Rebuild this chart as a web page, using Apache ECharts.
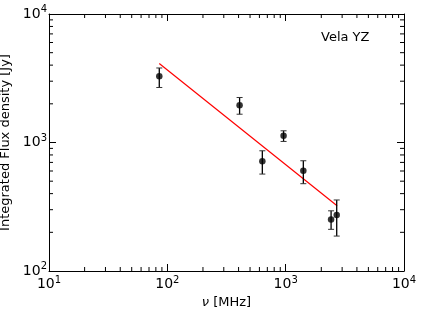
<!DOCTYPE html>
<html><head><meta charset="utf-8">
<script src="https://cdn.jsdelivr.net/npm/echarts@6/dist/echarts.min.js"></script>
<style>html,body{margin:0;padding:0;background:#fff}#c{width:421px;height:316px}</style>
</head><body><div id="c"></div>
<script>
const freq = [85.5, 408, 635, 960, 1410, 2420, 2700];
const flux = [3280, 1950, 716, 1128, 603, 252, 273];
const errLow = [2680, 1660, 568, 1019, 478, 211, 187];
const errHigh = [3800, 2240, 862, 1233, 721, 294, 357];
const fitFreq = [85.5, 2720];
const fitFlux = [4120, 322];
const xTickLabels = ['10^1', '10^2', '10^3', '10^4'];
const yTickLabels = ['10^2', '10^3', '10^4'];
const sourceName = 'Vela YZ';

const X_MIN = 10, X_MAX = 10000, Y_MIN = 100, Y_MAX = 10000;
function minors(lo, hi) {
  const out = [];
  for (let d = lo; d < hi; d *= 10) for (let k = 2; k <= 9; k++) out.push(d * k);
  return out;
}
const xMinor = minors(X_MIN, X_MAX);
const yMinor = minors(Y_MIN, Y_MAX);
const FONT = 'DejaVu Sans';

function powLabel(v) {
  const e = Math.round(Math.log10(v));
  return '{b|10}{s|' + e + '}';
}
const richLab = {
  b: {fontSize: 14, fontFamily: FONT, color: '#000'},
  s: {fontSize: 10, fontFamily: FONT, color: '#000', padding: [0, 0, 9, 0]}
};

const chart = echarts.init(document.getElementById('c'), null, {renderer: 'canvas'});
const axLine = {show: true, lineStyle: {color: '#000', width: 1}};
const majTick = {show: true, inside: true, length: 7, lineStyle: {color: '#000', width: 1}};

chart.setOption({
  animation: false,
  backgroundColor: '#fff',
  grid: {left: 49, right: 17, top: 14, bottom: 45, show: false, containLabel: false, outerBoundsMode: 'none'},
  xAxis: [
    {type: 'log', logBase: 10, min: X_MIN, max: X_MAX, position: 'bottom',
     axisLine: axLine, axisTick: majTick, splitLine: {show: false},
     axisLabel: {formatter: powLabel, rich: richLab, margin: 4},
     name: '{i|ν} [MHz]', nameLocation: 'middle', nameGap: 25,
     nameTextStyle: {fontFamily: FONT, fontSize: 13, color: '#000',
       rich: {i: {fontFamily: FONT, fontStyle: 'italic', fontSize: 13, color: '#000'}}}},
    {type: 'log', logBase: 10, min: X_MIN, max: X_MAX, position: 'top',
     axisLine: axLine, axisTick: majTick, splitLine: {show: false}, axisLabel: {show: false}}
  ],
  yAxis: [
    {type: 'log', logBase: 10, min: Y_MIN, max: Y_MAX, position: 'left',
     axisLine: axLine, axisTick: majTick, splitLine: {show: false},
     axisLabel: {formatter: powLabel, rich: richLab, margin: 2},
     name: 'Integrated Flux density [Jy]', nameLocation: 'middle', nameGap: 35,
     nameTextStyle: {fontFamily: FONT, fontSize: 13, color: '#000'}},
    {type: 'log', logBase: 10, min: Y_MIN, max: Y_MAX, position: 'right',
     axisLine: axLine, axisTick: majTick, splitLine: {show: false}, axisLabel: {show: false}}
  ],
  graphic: [{type: 'text', left: 321, top: 31,
    style: {text: sourceName, fontFamily: FONT, fontSize: 13, fill: '#000'}}],
  series: [
    {type: 'custom', xAxisIndex: 0, yAxisIndex: 0, silent: true,
     data: xMinor.map(v => [v, Y_MIN]),
     renderItem: function (params, api) {
       const b = api.coord([api.value(0), Y_MIN]);
       const t = api.coord([api.value(0), Y_MAX]);
       const st = {stroke: '#000', lineWidth: 1};
       return {type: 'group', children: [
         {type: 'line', shape: {x1: b[0], y1: b[1], x2: b[0], y2: b[1] - 4}, style: st},
         {type: 'line', shape: {x1: t[0], y1: t[1], x2: t[0], y2: t[1] + 4}, style: st}
       ]};
     }},
    {type: 'custom', xAxisIndex: 0, yAxisIndex: 0, silent: true,
     data: yMinor.map(v => [X_MIN, v]),
     renderItem: function (params, api) {
       const l = api.coord([X_MIN, api.value(1)]);
       const r = api.coord([X_MAX, api.value(1)]);
       const st = {stroke: '#000', lineWidth: 1};
       return {type: 'group', children: [
         {type: 'line', shape: {x1: l[0], y1: l[1], x2: l[0] + 4, y2: l[1]}, style: st},
         {type: 'line', shape: {x1: r[0], y1: r[1], x2: r[0] - 4, y2: r[1]}, style: st}
       ]};
     }},
    {type: 'line', xAxisIndex: 0, yAxisIndex: 0, symbol: 'none', silent: true,
     data: fitFreq.map((f, i) => [f, fitFlux[i]]),
     lineStyle: {color: '#ff0000', width: 1.2}, z: 3},
    {type: 'custom', xAxisIndex: 0, yAxisIndex: 0, silent: true, z: 4,
     data: freq.map((f, i) => [f, errLow[i], errHigh[i]]),
     encode: {x: 0, y: [1, 2]},
     renderItem: function (params, api) {
       const lo = api.coord([api.value(0), api.value(1)]);
       const hi = api.coord([api.value(0), api.value(2)]);
       const x = lo[0], w = 3;
       return {type: 'group', children: [
         {type: 'line', shape: {x1: x, y1: lo[1], x2: x, y2: hi[1]}, style: {stroke: '#000', lineWidth: 1.3}},
         {type: 'line', shape: {x1: x - w, y1: lo[1], x2: x + w, y2: lo[1]}, style: {stroke: '#333', lineWidth: 1}},
         {type: 'line', shape: {x1: x - w, y1: hi[1], x2: x + w, y2: hi[1]}, style: {stroke: '#333', lineWidth: 1}}
       ]};
     }},
    {type: 'scatter', xAxisIndex: 0, yAxisIndex: 0, silent: true, z: 5,
     data: freq.map((f, i) => [f, flux[i]]),
     symbol: 'circle', symbolSize: 6.5, itemStyle: {color: '#000'}}
  ]
});
</script>
</body></html>
